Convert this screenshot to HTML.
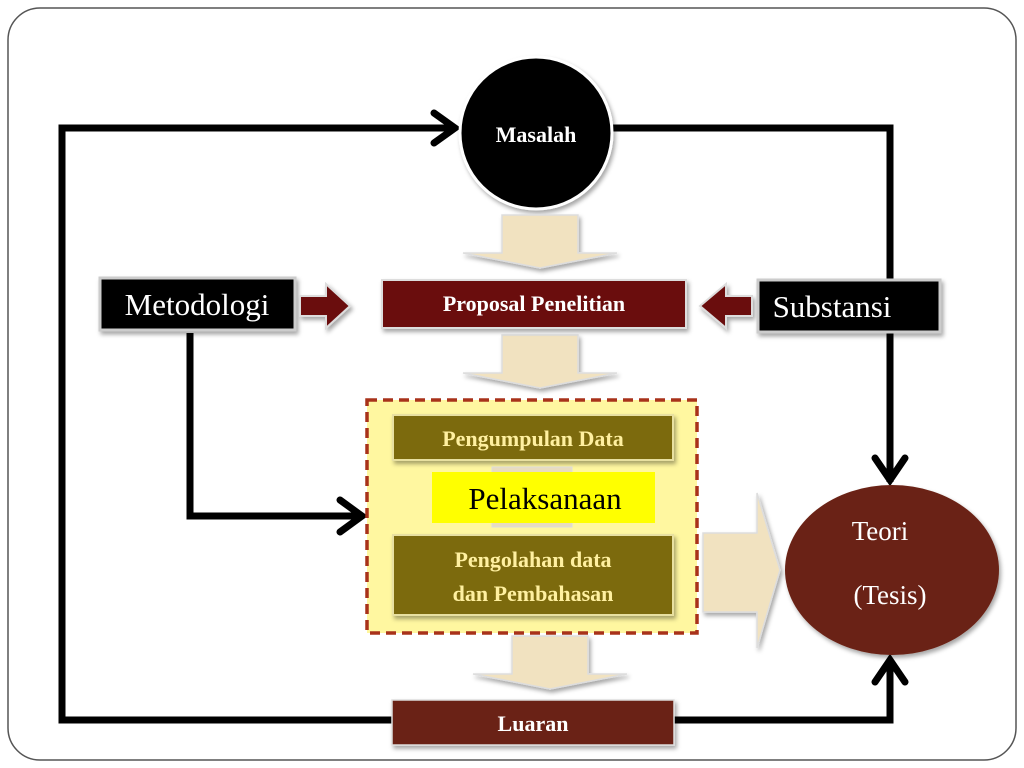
<!DOCTYPE html>
<html><head><meta charset="utf-8"><style>
html,body{margin:0;padding:0;background:#fff;}
svg{display:block;}
</style></head><body>
<svg width="1024" height="768" viewBox="0 0 1024 768" xmlns="http://www.w3.org/2000/svg" font-family="Liberation Serif, serif">
<defs>
<filter id="sh" x="-10%" y="-10%" width="130%" height="140%"><feDropShadow dx="2" dy="3" stdDeviation="2" flood-color="#000" flood-opacity="0.35"/></filter>
</defs>
<rect x="8" y="8" width="1008" height="752" rx="32" fill="#fff" stroke="#555" stroke-width="1.5"/>
<g fill="none" stroke="#000" stroke-width="7" stroke-linejoin="miter">
<polyline points="455,128 62,128 62,720 392,720"/>
<polyline points="434,113 455,128 434,143" stroke-linecap="round"/>
<polyline points="613,128 890,128 890,482"/>
<polyline points="875,458 890,480 905,458" stroke-linecap="round"/>
<polyline points="674,720 890,720 890,660"/>
<polyline points="875,682 890,660 905,682" stroke-linecap="round"/>
<polyline points="190,333 190,516 362,516"/>
<polyline points="340,500 362,516 340,532" stroke-linecap="round"/>
</g>
<circle cx="536" cy="133" r="76" fill="#000" stroke="#fff" stroke-width="3" filter="url(#sh)"/>
<text x="536" y="142" font-size="22" font-weight="bold" fill="#fff" text-anchor="middle">Masalah</text>
<g fill="#f1e2c0" stroke="#ddd" stroke-width="1.5" filter="url(#sh)">
<polygon points="502,215 578,215 578,253 617,253 540,268 463,253 502,253"/>
<polygon points="502,335 578,335 578,373 617,373 540,388 463,373 502,373"/>
<polygon points="512,636 588,636 588,674 627,674 550,689 473,674 512,674"/>
<polygon points="703,533 757,533 757,493 780,570 757,648 757,612 703,612"/>
</g>
<rect x="100" y="278" width="195" height="52" fill="#000" stroke="#ccc" stroke-width="3" filter="url(#sh)"/>
<text x="197" y="315" font-size="31" fill="#fff" text-anchor="middle">Metodologi</text>
<polygon points="300,296 326,296 326,284 350,306 326,328 326,316 300,316" fill="#6b0f0f" stroke="#ddd" stroke-width="2" filter="url(#sh)"/>
<rect x="382" y="280" width="304" height="48" fill="#6b0f0f" stroke="#ddd" stroke-width="2" filter="url(#sh)"/>
<text x="534" y="311" font-size="22" font-weight="bold" fill="#fff" text-anchor="middle">Proposal  Penelitian</text>
<polygon points="752,296 726,296 726,284 700,306 726,328 726,316 752,316" fill="#6b0f0f" stroke="#ddd" stroke-width="2" filter="url(#sh)"/>
<rect x="758" y="280" width="182" height="52" fill="#000" stroke="#ccc" stroke-width="3" filter="url(#sh)"/>
<text x="832" y="317" font-size="31" fill="#fff" text-anchor="middle">Substansi</text>
<rect x="367" y="400" width="330" height="233" fill="#fff7a0" stroke="#a8321a" stroke-width="3.5" stroke-dasharray="10,6"/>
<rect x="393" y="415" width="280" height="45" fill="#7b6a10" stroke="#e8e0a0" stroke-width="2" filter="url(#sh)"/>
<text x="533" y="446" font-size="22" font-weight="bold" fill="#fff0a0" text-anchor="middle">Pengumpulan Data</text>
<rect x="492" y="467" width="80" height="60" fill="#e8dcc0" stroke="#ddd"/>
<rect x="432" y="472" width="223" height="51" fill="#ffff00"/>
<text x="545" y="509" font-size="31" fill="#000" text-anchor="middle">Pelaksanaan</text>
<rect x="393" y="535" width="280" height="80" fill="#7b6a10" stroke="#e8e0a0" stroke-width="2" filter="url(#sh)"/>
<text x="533" y="567" font-size="22" font-weight="bold" fill="#fff0a0" text-anchor="middle">Pengolahan data</text>
<text x="533" y="601" font-size="22" font-weight="bold" fill="#fff0a0" text-anchor="middle">dan Pembahasan</text>
<ellipse cx="892" cy="570" rx="107" ry="85" fill="#6b2414" filter="url(#sh)"/>
<text x="880" y="540" font-size="27" fill="#fff" text-anchor="middle">Teori</text>
<text x="890" y="604" font-size="27" fill="#fff" text-anchor="middle">(Tesis)</text>
<rect x="392" y="700" width="282" height="45" fill="#6b2414" stroke="#ddd" stroke-width="1.5" filter="url(#sh)"/>
<text x="533" y="731" font-size="22" font-weight="bold" fill="#fff" text-anchor="middle">Luaran</text>
</svg>
</body></html>
